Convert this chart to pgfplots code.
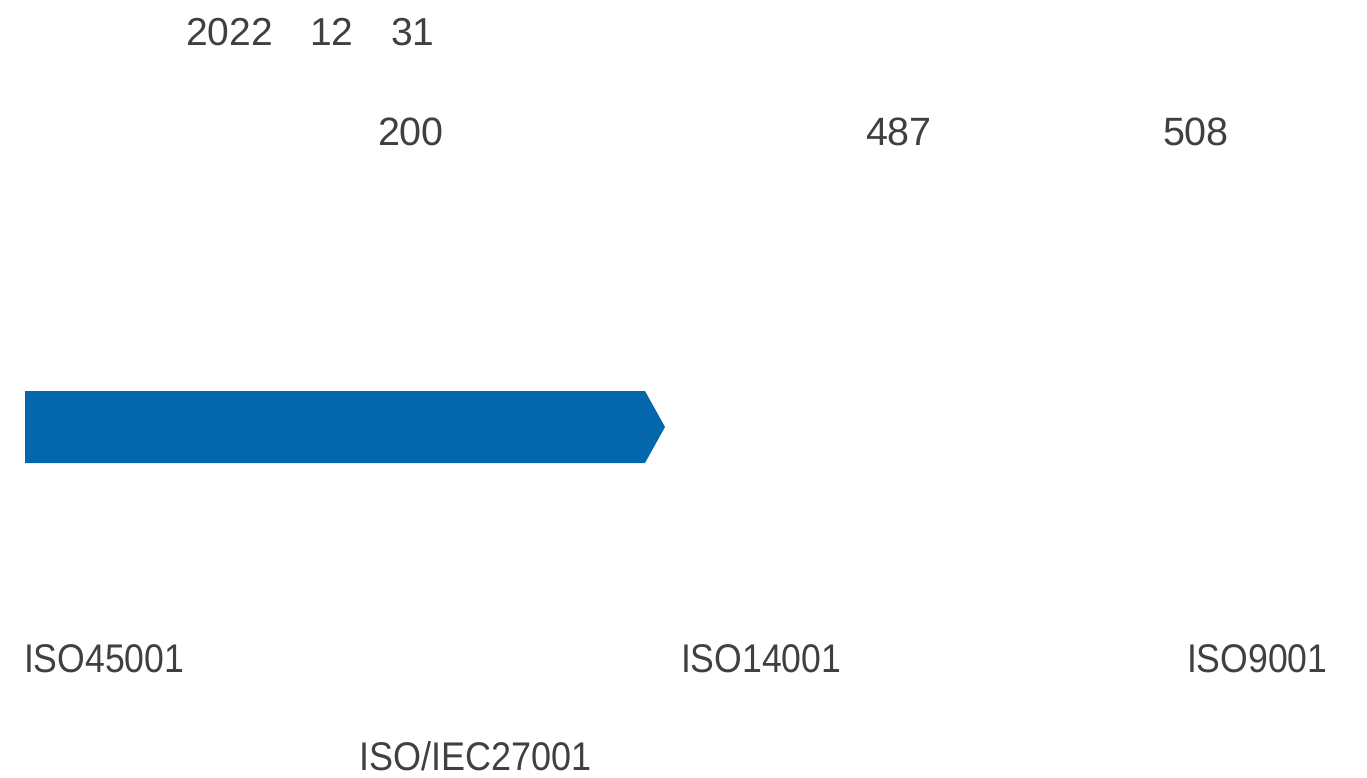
\documentclass[border=0pt]{standalone}
\usepackage{fontspec}
\setmainfont{Liberation Sans}
\usepackage{pgfplots}
\pgfplotsset{compat=1.18}
\definecolor{barblue}{RGB}{4,103,172}
\definecolor{txt}{RGB}{64,64,64}
\begin{document}
\begin{tikzpicture}[
    lbl/.style={anchor=base west, color=txt, inner sep=0pt, outer sep=0pt,
                font=\fontsize{40}{42}\selectfont},
]
\begin{axis}[
    scale only axis,
    width=1367pt, height=778pt,
    xmin=0, xmax=1367, ymin=0, ymax=778,
    y dir=reverse,
    hide axis,
    clip=false,
]
% frame of the page
\addplot[draw=none] coordinates {(0,0) (1367,778)};

% arrow bar
\addplot[fill=barblue, draw=none] coordinates {
    (25,391) (645,391) (665,427) (645,463) (25,463)
} -- cycle;

% date
\node[lbl, font=\fontsize{39}{42}\selectfont] at (axis cs:186,46) {2022};
\node[lbl, font=\fontsize{39}{42}\selectfont] at (axis cs:310,46) {12};
\node[lbl, font=\fontsize{39}{42}\selectfont] at (axis cs:391,46) {31};

% counts
\node[lbl, font=\fontsize{39.5}{40}\selectfont] at (axis cs:378,146) {200};
\node[lbl, font=\fontsize{39.5}{40}\selectfont] at (axis cs:866,146) {487};
\node[lbl, font=\fontsize{39.5}{40}\selectfont] at (axis cs:1163,146) {508};

% standards
\node[lbl] at (axis cs:24,672) {\scalebox{0.89}[1]{ISO45001}};
\node[lbl] at (axis cs:681,672) {\scalebox{0.89}[1]{ISO14001}};
\node[lbl] at (axis cs:1187,672) {\scalebox{0.89}[1]{ISO9001}};
\node[lbl] at (axis cs:359,770) {\scalebox{0.9}[1]{ISO/IEC27001}};
\end{axis}
\end{tikzpicture}
\end{document}
